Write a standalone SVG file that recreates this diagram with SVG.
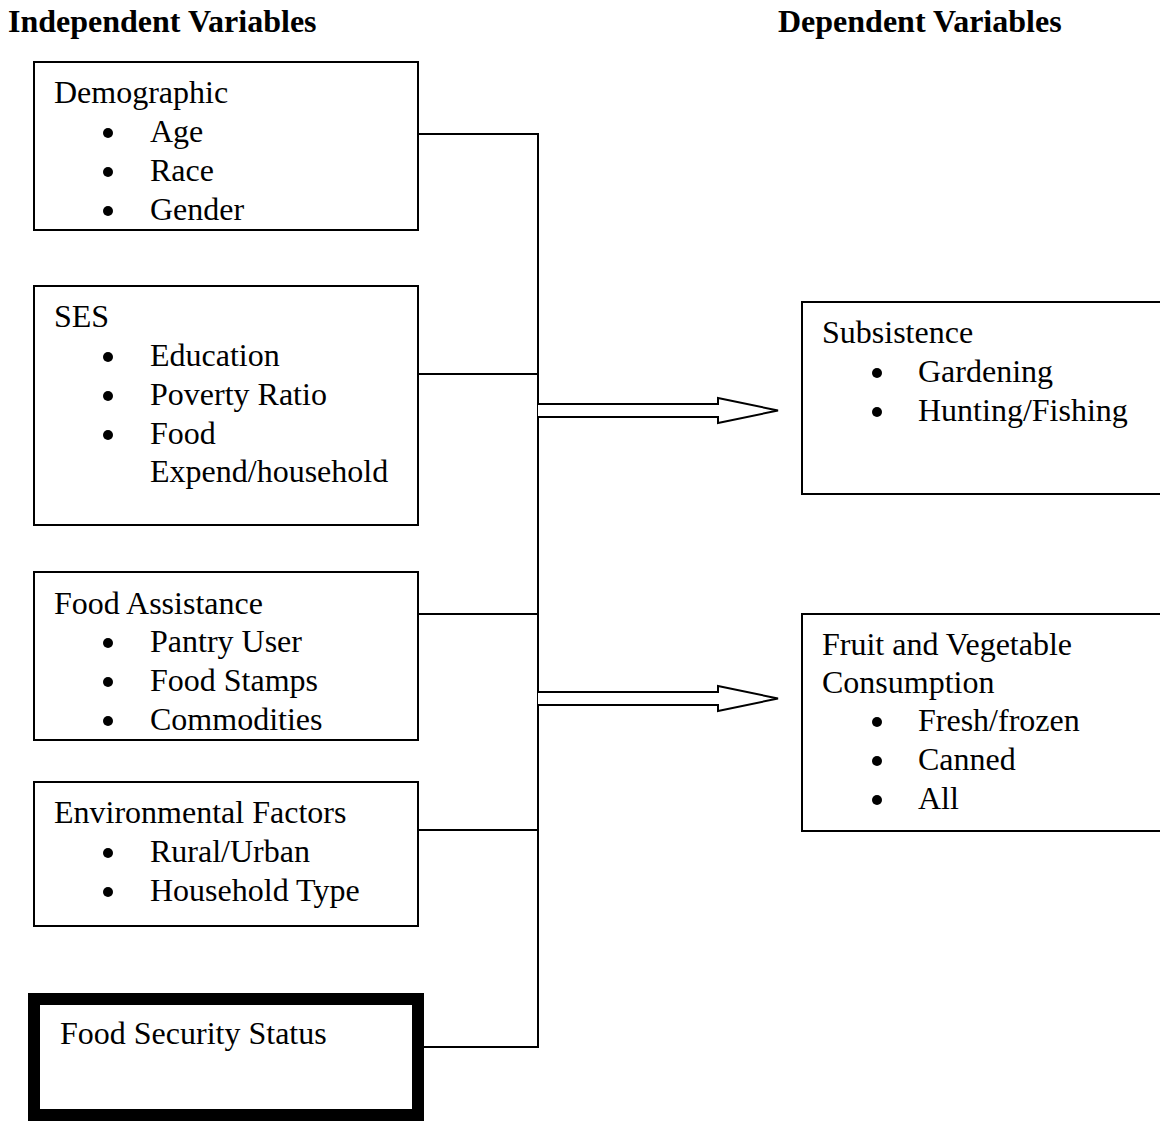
<svg xmlns="http://www.w3.org/2000/svg" width="1160" height="1122" viewBox="0 0 1160 1122">
<style>
text{font-family:"Liberation Serif","Times New Roman",serif;font-size:32px;fill:#000}
.h{font-weight:bold}
.box{fill:#fff;stroke:#000;stroke-width:2}
.thick{fill:#fff;stroke:#000;stroke-width:12}
.b{fill:#000}
.c{fill:none;stroke:#000;stroke-width:2}
.ar{fill:#fff;stroke:#000;stroke-width:2;stroke-linejoin:miter}
</style>
<rect width="1160" height="1122" fill="#fff"/>
<text class="h" x="8" y="32">Independent Variables</text>
<text class="h" x="778" y="32">Dependent Variables</text>

<g id="connectors">
<path class="c" d="M418 134H538M418 374H538M418 614H538M418 830H538M424 1047H538M538 133V1048"/>
<path class="ar" d="M538 404H718V398L778 410.5L718 423V417H538"/>
<path class="ar" d="M538 692H718V686L778 698.5L718 711V705H538"/>
</g>

<g id="demographic">
<rect class="box" x="34" y="62" width="384" height="168"/>
<text x="54" y="103">Demographic</text>
<circle class="b" cx="108" cy="133" r="5"/><text x="150" y="142">Age</text>
<circle class="b" cx="108" cy="172" r="5"/><text x="150" y="181">Race</text>
<circle class="b" cx="108" cy="211" r="5"/><text x="150" y="220">Gender</text>
</g>

<g id="ses">
<rect class="box" x="34" y="286" width="384" height="239"/>
<text x="54" y="327">SES</text>
<circle class="b" cx="108" cy="357" r="5"/><text x="150" y="366">Education</text>
<circle class="b" cx="108" cy="396" r="5"/><text x="150" y="405">Poverty Ratio</text>
<circle class="b" cx="108" cy="435" r="5"/><text x="150" y="444">Food</text>
<text x="150" y="482">Expend/household</text>
</g>

<g id="food-assistance">
<rect class="box" x="34" y="572" width="384" height="168"/>
<text x="54" y="614">Food Assistance</text>
<circle class="b" cx="108" cy="643" r="5"/><text x="150" y="652">Pantry User</text>
<circle class="b" cx="108" cy="682" r="5"/><text x="150" y="691">Food Stamps</text>
<circle class="b" cx="108" cy="721" r="5"/><text x="150" y="730">Commodities</text>
</g>

<g id="environmental">
<rect class="box" x="34" y="782" width="384" height="144"/>
<text x="54" y="823">Environmental Factors</text>
<circle class="b" cx="108" cy="853" r="5"/><text x="150" y="862">Rural/Urban</text>
<circle class="b" cx="108" cy="892" r="5"/><text x="150" y="901">Household Type</text>
</g>

<g id="food-security">
<rect class="thick" x="34" y="999" width="384" height="116"/>
<text x="60" y="1044">Food Security Status</text>
</g>

<g id="subsistence">
<rect class="box" x="802" y="302" width="420" height="192"/>
<text x="822" y="343">Subsistence</text>
<circle class="b" cx="877" cy="373" r="5"/><text x="918" y="382">Gardening</text>
<circle class="b" cx="877" cy="412" r="5"/><text x="918" y="421">Hunting/Fishing</text>
</g>

<g id="fruit-vegetable">
<rect class="box" x="802" y="614" width="420" height="217"/>
<text x="822" y="655">Fruit and Vegetable</text>
<text x="822" y="693">Consumption</text>
<circle class="b" cx="877" cy="722" r="5"/><text x="918" y="731">Fresh/frozen</text>
<circle class="b" cx="877" cy="761" r="5"/><text x="918" y="770">Canned</text>
<circle class="b" cx="877" cy="800" r="5"/><text x="918" y="809">All</text>
</g>
</svg>
